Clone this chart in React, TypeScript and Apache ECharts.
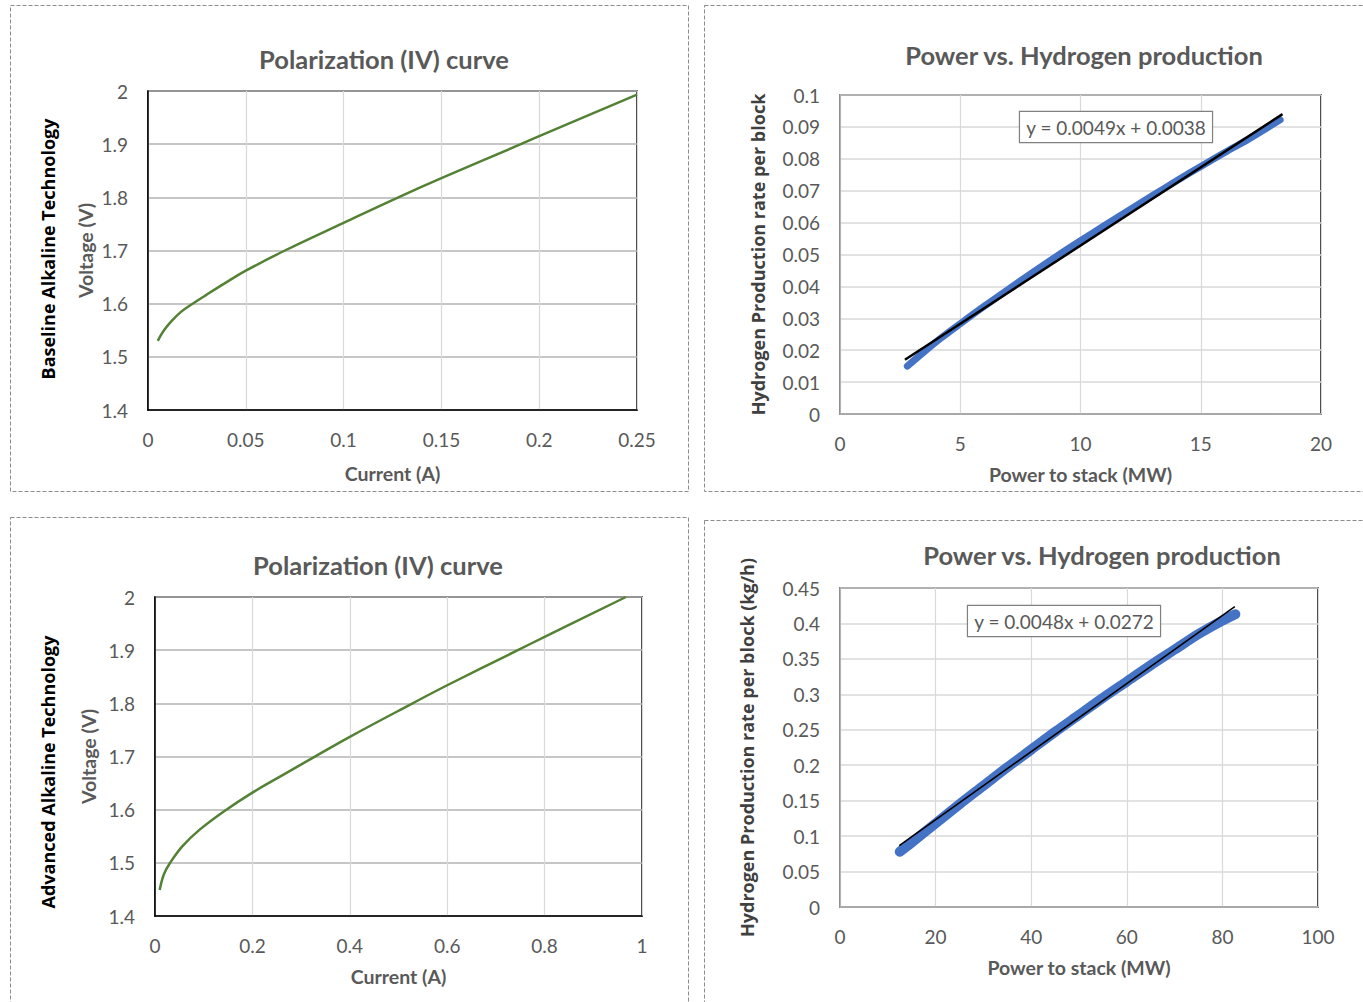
import React, { useEffect, useRef } from "react";
import * as echarts from "echarts";

// ---- Data ----
const baselineCurrent = [0.005, 0.008, 0.012, 0.017, 0.022, 0.03, 0.04, 0.05, 0.07, 0.1, 0.128, 0.15, 0.19, 0.2, 0.25];
const baselineVoltage = [1.53, 1.549, 1.567, 1.585, 1.598, 1.617, 1.64, 1.662, 1.7, 1.752, 1.8, 1.836, 1.899, 1.915, 1.993];

const advancedCurrent = [0.0096, 0.0185, 0.031, 0.056, 0.09, 0.142, 0.2, 0.262, 0.323, 0.4, 0.529, 0.6, 0.745, 0.8, 0.967];
const advancedVoltage = [1.449, 1.479, 1.5, 1.531, 1.561, 1.597, 1.632, 1.665, 1.697, 1.737, 1.8, 1.834, 1.9, 1.925, 2.0];

const basePower = [2.8, 3.5, 4.2, 5, 6, 7, 8, 9, 10, 11, 12, 13, 14, 15, 16, 17, 18.3];
const baseH2 = [0.015, 0.0195, 0.0238, 0.0283, 0.0338, 0.0391, 0.0443, 0.0494, 0.0543, 0.0591, 0.0638, 0.0685, 0.0731, 0.0776, 0.082, 0.0862, 0.0922];
const baseTrendX = [2.7, 18.4];
const baseTrendY = [0.017, 0.094];
const baseEquation = "y = 0.0049x + 0.0038";

const advPower = [12.5, 15, 20, 25, 30, 35, 40, 45, 50, 55, 60, 65, 70, 75, 80, 82.7];
const advH2 = [0.078, 0.091, 0.118, 0.145, 0.171, 0.197, 0.222, 0.247, 0.271, 0.295, 0.318, 0.341, 0.363, 0.385, 0.404, 0.413];
const advTrendX = [12.4, 82.6];
const advTrendY = [0.0867, 0.4237];
const advEquation = "y = 0.0048x + 0.0272";

const ivTitle = "Polarization (IV) curve";
const h2Title = "Power vs. Hydrogen production";

const zip = (a: number[], b: number[]) => a.map((v, i) => [v, b[i]]);

const FONT = "Lato";
const GREY = "#595959";

function buildOption() {
  const tick = { color: GREY, fontFamily: FONT, fontSize: 19 };
  const nameStyleX = { color: GREY, fontFamily: FONT, fontSize: 19.5, fontWeight: "bold" as const };
  const nameStyleY = { color: GREY, fontFamily: FONT, fontSize: 19.5, fontWeight: "bold" as const };
  const nameStyleH2 = { color: "#404040", fontFamily: "Open Sans", fontSize: 18, fontWeight: "bold" as const };
  const titleStyle = { color: GREY, fontFamily: FONT, fontSize: 25.5, fontWeight: "bold" as const };

  const xAx = (gi: number, min: number, max: number, interval: number, name: string, lineColor: string, gap: number) => ({
    type: "value",
    gridIndex: gi,
    min,
    max,
    interval,
    name,
    nameLocation: "middle",
    nameGap: gap,
    nameTextStyle: nameStyleX,
    axisLine: { show: true, lineStyle: { color: lineColor, width: 1.5 } },
    axisTick: { show: false },
    axisLabel: { ...tick, margin: 20 },
    splitLine: { show: true, lineStyle: { color: "#d9d9d9", width: 1.2 } },
  });
  const yAx = (gi: number, min: number, max: number, interval: number, name: string, lineColor: string, gap: number, splitColor: string, nstyle: any) => ({
    type: "value",
    gridIndex: gi,
    min,
    max,
    interval,
    name,
    nameLocation: "middle",
    nameRotate: 90,
    nameGap: gap,
    nameTextStyle: nstyle,
    axisLine: { show: true, lineStyle: { color: lineColor, width: 1.5 } },
    axisTick: { show: false },
    axisLabel: { ...tick, margin: 20 },
    splitLine: { show: true, lineStyle: { color: splitColor, width: 1.5 } },
  });

  const gridBase = { show: true, borderColor: "#000", borderWidth: 1.5, backgroundColor: "transparent" };

  const dashedRect = (x: number, y: number, w: number, h: number) => ({
    type: "rect",
    shape: { x, y, width: w, height: h },
    style: { fill: "none", stroke: "#8c8c8c", lineWidth: 1, lineDash: [4, 2] },
    silent: true,
  });

  const sideLabel = (text: string, x: number, y: number) => ({
    type: "text",
    x,
    y,
    rotation: Math.PI / 2,
    style: {
      text,
      fill: "#000",
      font: "bold 18px 'Open Sans'",
      textAlign: "center",
      textVerticalAlign: "middle",
    },
    silent: true,
  });

  const eqBox = (text: string, x: number, y: number) => ({
    type: "text",
    x,
    y,
    z: 10,
    style: {
      text,
      fill: GREY,
      font: `19px ${FONT}`,
      textAlign: "center",
      textVerticalAlign: "middle",
      backgroundColor: "#fff",
      borderColor: "#808080",
      borderWidth: 1.2,
      padding: [6, 6, 5, 6],
    },
    silent: true,
  });

  return {
    animation: false,
    backgroundColor: "#fff",
    title: [
      { text: ivTitle, left: 379, top: 41, textAlign: "center", textStyle: titleStyle },
      { text: h2Title, left: 1079, top: 37, textAlign: "center", textStyle: titleStyle },
      { text: ivTitle, left: 373, top: 547, textAlign: "center", textStyle: titleStyle },
      { text: h2Title, left: 1097, top: 537, textAlign: "center", textStyle: titleStyle },
    ],
    grid: [
      { ...gridBase, left: 148, top: 91, width: 489, height: 319 },
      { ...gridBase, left: 840, top: 95, width: 481, height: 319 },
      { ...gridBase, left: 155, top: 597, width: 487, height: 319 },
      { ...gridBase, left: 840, top: 588, width: 478, height: 319 },
    ],
    xAxis: [
      xAx(0, 0, 0.25, 0.05, "Current (A)", "#000", 53),
      xAx(1, 0, 20, 5, "Power to stack (MW)", "#a6a6a6", 50),
      xAx(2, 0, 1, 0.2, "Current (A)", "#000", 50),
      xAx(3, 0, 100, 20, "Power to stack (MW)", "#a6a6a6", 50),
    ],
    yAxis: [
      yAx(0, 1.4, 2, 0.1, "Voltage (V)", "#000", 53, "#b3b3b3", nameStyleY),
      yAx(1, 0, 0.1, 0.01, "Hydrogen Production rate per block", "#a6a6a6", 73, "#d9d9d9", nameStyleH2),
      yAx(2, 1.4, 2, 0.1, "Voltage (V)", "#000", 57, "#b3b3b3", nameStyleY),
      yAx(3, 0, 0.45, 0.05, "Hydrogen Production rate per block (kg/h)", "#a6a6a6", 84, "#d9d9d9", nameStyleH2),
    ],
    graphic: [
      dashedRect(10.5, 5.5, 678, 486),
      dashedRect(704.5, 5.5, 700, 486),
      dashedRect(10.5, 517.5, 678, 520),
      dashedRect(704.5, 520.5, 700, 520),
      sideLabel("Baseline Alkaline Technology", 48, 249),
      sideLabel("Advanced Alkaline Technology", 48, 772),
      eqBox(baseEquation, 1116, 127),
      eqBox(advEquation, 1064, 621),
    ],
    series: [
      {
        type: "line",
        xAxisIndex: 0,
        yAxisIndex: 0,
        data: zip(baselineCurrent, baselineVoltage),
        smooth: 0.4,
        showSymbol: false,
        lineStyle: { color: "#548235", width: 2.5 },
      },
      {
        type: "line",
        xAxisIndex: 1,
        yAxisIndex: 1,
        data: zip(basePower, baseH2),
        smooth: 0.3,
        showSymbol: false,
        lineStyle: { color: "#4472C4", width: 7, cap: "round", join: "round" },
      },
      {
        type: "line",
        xAxisIndex: 1,
        yAxisIndex: 1,
        data: zip(baseTrendX, baseTrendY),
        showSymbol: false,
        lineStyle: { color: "#000", width: 2.5 },
      },
      {
        type: "line",
        xAxisIndex: 2,
        yAxisIndex: 2,
        data: zip(advancedCurrent, advancedVoltage),
        smooth: 0.4,
        showSymbol: false,
        lineStyle: { color: "#548235", width: 2.5 },
      },
      {
        type: "line",
        xAxisIndex: 3,
        yAxisIndex: 3,
        data: zip(advPower, advH2),
        smooth: 0.3,
        showSymbol: false,
        lineStyle: { color: "#4472C4", width: 10, cap: "round", join: "round" },
      },
      {
        type: "line",
        xAxisIndex: 3,
        yAxisIndex: 3,
        data: zip(advTrendX, advTrendY),
        showSymbol: false,
        lineStyle: { color: "#000", width: 1.6 },
      },
    ],
  };
}

export default function App() {
  const ref = useRef<HTMLDivElement>(null);
  useEffect(() => {
    if (!ref.current) return;
    const chart = echarts.init(ref.current, undefined, { renderer: "svg" });
    chart.setOption(buildOption() as any);
    return () => chart.dispose();
  }, []);
  return (
    <div
      ref={ref}
      style={{ position: "absolute", left: 0, top: 0, width: 1363, height: 1002, background: "#fff" }}
    />
  );
}
